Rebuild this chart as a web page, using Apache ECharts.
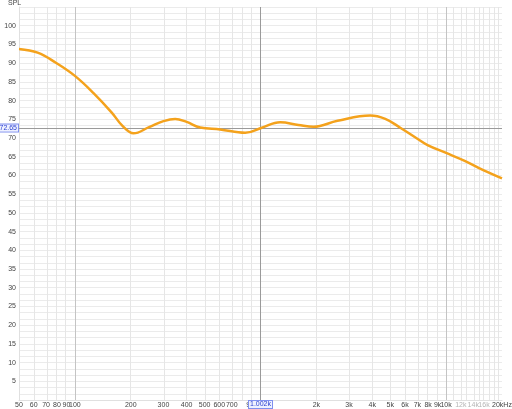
<!DOCTYPE html>
<html><head><meta charset="utf-8">
<script src="https://cdn.jsdelivr.net/npm/echarts@6/dist/echarts.min.js"></script>
<style>html,body{margin:0;padding:0;background:#fff}#c{width:512px;height:409px}</style>
</head><body><div id="c"></div>
<script>
// Frequency response (Hz -> dB SPL)
const freqs = [50, 63, 79, 100, 126, 158, 180, 207, 251, 300, 347, 400, 473, 606, 827, 1016, 1276, 1600, 1930, 2600, 3900, 4700, 5660, 7000, 7943, 10000, 12589, 15849, 20000];
const spl   = [93.8, 92.8, 90.1, 86.6, 82.0, 76.8, 73.3, 71.25, 72.9, 74.5, 75.1, 74.3, 72.8, 72.3, 71.4, 72.75, 74.2, 73.5, 73.0, 74.6, 76.0, 75.1, 72.75, 69.8, 68.1, 66.0, 63.9, 61.4, 59.2];

const xTickFreqs  = [50, 60, 70, 80, 90, 100, 200, 300, 400, 500, 600, 700, 900, 2000, 3000, 4000, 5000, 6000, 7000, 8000, 9000, 10000, 12000, 14000, 16000, 20000];
const xTickLabels = ['50','60','70','80','90','100','200','300','400','500','600','700','900','2k','3k','4k','5k','6k','7k','8k','9k','10k','12k','14k','16k','20kHz'];
const fadedLabels = ['12k','14k','16k'];
const gridFreqs   = [60,70,80,90,200,300,400,500,600,700,800,900,2000,3000,4000,5000,6000,7000,8000,9000,11000,12000,13000,14000,15000,16000,17000,18000,19000];
const majorFreqs  = [100, 1000, 10000];
const yTicks      = [5,10,15,20,25,30,35,40,45,50,55,60,65,70,75,80,85,90,95,100];
const cursorFreq = 1002, cursorSpl = 72.65;

const L = Math.log10;
const labelMap = {};
xTickFreqs.forEach((f, i) => { labelMap[L(f).toFixed(6)] = xTickLabels[i]; });

const chart = echarts.init(document.getElementById('c'), null, {renderer: 'canvas'});
const lineMl = (freqList, color) => ({
  silent: true, symbol: 'none', animation: false,
  lineStyle: {color: color, width: 1, type: 'solid'},
  label: {show: false},
  data: freqList.map(f => ({xAxis: L(f)}))
});
chart.setOption({
  animation: false,
  grid: {left: 19, right: 10, top: 7, bottom: 9, containLabel: false, outerBoundsMode: 'none'},
  graphic: [{type: 'text', left: 8, top: 0, style: {text: 'SPL', fontSize: 7, fill: '#444', fontFamily: 'Liberation Sans, Arial'}}],
  xAxis: {
    type: 'value', min: L(50), max: L(20000),
    axisLine: {show: true, lineStyle: {color: '#e0e0e0'}},
    axisTick: {show: false},
    splitLine: {show: false},
    axisLabel: {
      customValues: xTickFreqs.map(f => L(f)),
      margin: 2, fontSize: 7, color: '#444', fontFamily: 'Liberation Sans, Arial',
      formatter: v => { const t = labelMap[v.toFixed(6)] || ''; return fadedLabels.includes(t) ? '{f|' + t + '}' : t; },
      rich: {f: {color: '#b5b5b5', fontSize: 7, fontFamily: 'Liberation Sans, Arial'}}
    }
  },
  yAxis: {
    type: 'value', min: 0, max: 105, interval: 5/3,
    axisLine: {show: true, lineStyle: {color: '#e0e0e0'}},
    axisTick: {show: false},
    splitLine: {show: true, lineStyle: {color: '#ebebeb', width: 1}},
    axisLabel: {customValues: yTicks, margin: 3, fontSize: 7, color: '#444', fontFamily: 'Liberation Sans, Arial'}
  },
  series: [
    {type: 'line', data: [], markLine: lineMl(gridFreqs, '#e6e6e6'), z: 1},
    {type: 'line', data: [], markLine: lineMl(majorFreqs, '#c4c4c4'), z: 2},
    {type: 'line', data: [], z: 3, markLine: {
      silent: true, symbol: 'none', animation: false,
      lineStyle: {color: '#9a9a9a', width: 1, type: 'solid'},
      label: {
        show: true, position: 'start', distance: 1, fontSize: 7, color: '#2a3fd0',
        backgroundColor: '#eef1ff', borderColor: '#8090ee', borderWidth: 1, padding: [0, 1],
        fontFamily: 'Liberation Sans, Arial'
      },
      data: [
        {yAxis: cursorSpl, label: {formatter: cursorSpl.toFixed(2)}},
        {xAxis: L(cursorFreq), label: {formatter: (cursorFreq/1000).toFixed(3) + 'k'}}
      ]
    }},
    {
      type: 'line', z: 5, smooth: 0.4, symbol: 'none',
      lineStyle: {color: '#f4a21c', width: 2.5},
      data: freqs.map((f, i) => [L(f), spl[i]])
    }
  ]
});
</script></body></html>
